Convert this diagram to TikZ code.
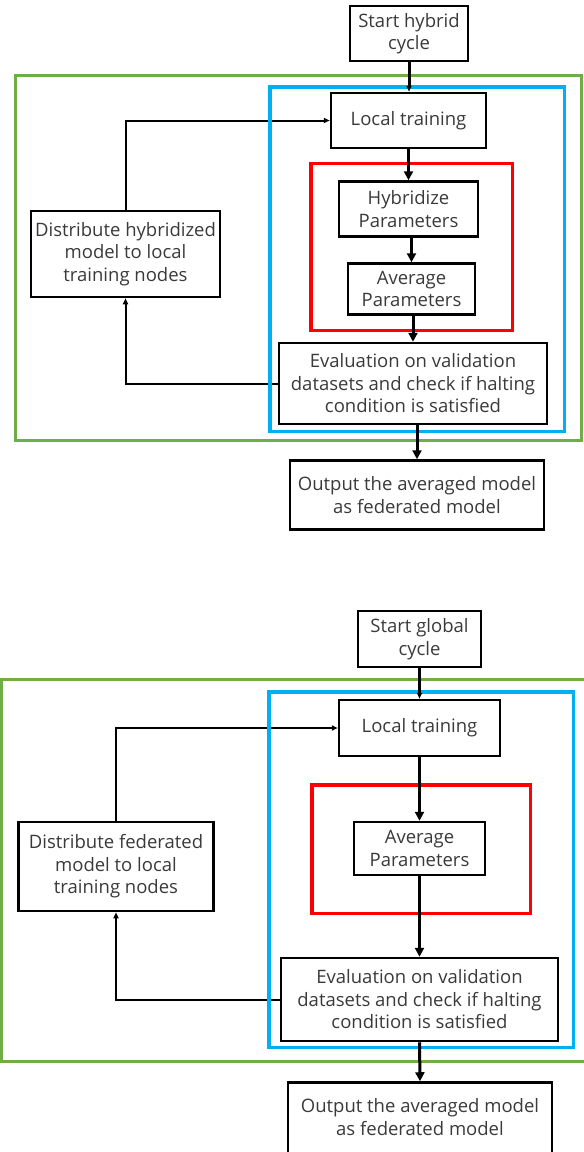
\documentclass[tikz,border=0pt]{standalone}
\usepackage{fontspec}
\setmainfont{Open Sans}
\usetikzlibrary{arrows.meta}
\definecolor{frgreen}{RGB}{112,173,71}
\definecolor{frblue}{RGB}{0,176,240}
\definecolor{frred}{RGB}{255,0,0}
\definecolor{txt}{RGB}{58,58,58}
\tikzset{
  txtfont/.style={text=txt, font=\fontsize{18.5}{22.5}\selectfont},
  box/.style={draw=black, line width=2.5pt, fill=white, inner sep=0pt, align=center, txtfont},
  flow/.style={line width=3pt, -{Triangle[length=9pt,width=9pt]}},
  flowsmall/.style={line width=3pt, -{Triangle[length=6pt,width=5pt]}},
  loop/.style={line width=2pt, -{Triangle[length=6pt,width=5pt]}},
  gframe/.style={draw=frgreen, line width=3pt},
  bframe/.style={draw=frblue, line width=3.5pt},
  rframe/.style={draw=frred, line width=3.5pt}
}
\begin{document}
\begin{tikzpicture}[x=1pt,y=-1pt]
\clip (0,0) rectangle (584,1152);
\fill[white] (0,0) rectangle (584,1152);

% ---------------- top diagram ----------------
\node[box, minimum width=118pt, minimum height=55pt] (start1) at (409,33.5) {Start hybrid\\cycle};
\node[box, minimum width=155pt, minimum height=55pt] (local1) at (408.5,120.5) {Local training};
\node[box, minimum width=139pt, minimum height=55pt] (hyb1) at (408.5,209) {Hybridize\\Parameters};
\node[box, minimum width=127pt, minimum height=51pt] (avg1) at (411.5,289) {Average\\Parameters};
\node[box, minimum width=268pt, minimum height=81pt] (eval1) at (413,383.5) {Evaluation on validation\\datasets and check if halting\\condition is satisfied};
\node[box, minimum width=254pt, minimum height=69pt] (out1) at (417,495) {Output the averaged model\\as federated model};
\node[box, minimum width=189pt, minimum height=86pt] (dist1) at (125.5,254) {Distribute hybridized\\model to local\\training nodes};

\draw[loop] (eval1.west) -| (dist1.south);
\draw[loop] (dist1.north) |- (local1.west);

\draw[gframe] (15.5,75.5) rectangle (581.5,440.5);
\draw[bframe] (269.75,86.75) rectangle (564.25,431.25);
\draw[rframe] (311,163.5) rectangle (512.5,330.5);

\draw[flowsmall] (start1.south) -- (start1.south |- local1.north);
\draw[flow] (local1.south) -- (local1.south |- hyb1.north);
\draw[flow] (hyb1.south -| avg1.north) -- (avg1.north);
\draw[flow] (avg1.south -| eval1.north) -- (eval1.north);
\draw[flow] (eval1.south -| out1.north) -- (out1.north);

% ---------------- bottom diagram ----------------
\node[box, minimum width=123pt, minimum height=56pt] (start2) at (419.5,639) {Start global\\cycle};
\node[box, minimum width=161pt, minimum height=56pt] (local2) at (419.5,728) {Local training};
\node[box, minimum width=131pt, minimum height=53pt] (avg2) at (419.5,848.5) {Average\\Parameters};
\node[box, minimum width=277pt, minimum height=83pt] (eval2) at (419.5,999.5) {Evaluation on validation\\datasets and check if halting\\condition is satisfied};
\node[box, minimum width=264pt, minimum height=80pt] (out2) at (420,1122.5) {};
\node[align=center, txtfont] (out2t) at (420,1117) {Output the averaged model\\as federated model};
\node[box, minimum width=195pt, minimum height=89pt] (dist2) at (116,866.5) {Distribute federated\\model to local\\training nodes};

\draw[loop] (eval2.west) -| (dist2.south);
\draw[loop] (dist2.north) |- (local2.west);

\draw[gframe] (1.5,679.5) rectangle (590,1061.5);
\draw[bframe] (268.75,691.75) rectangle (573.25,1047.25);
\draw[rframe] (311.75,784.75) rectangle (530.25,913.25);

\draw[flowsmall] (start2.south) -- (local2.north);
\draw[flow] (local2.south) -- (avg2.north);
\draw[flow] (avg2.south) -- (eval2.north);
\draw[flow] (eval2.south) -- (out2.north);
\end{tikzpicture}
\end{document}
